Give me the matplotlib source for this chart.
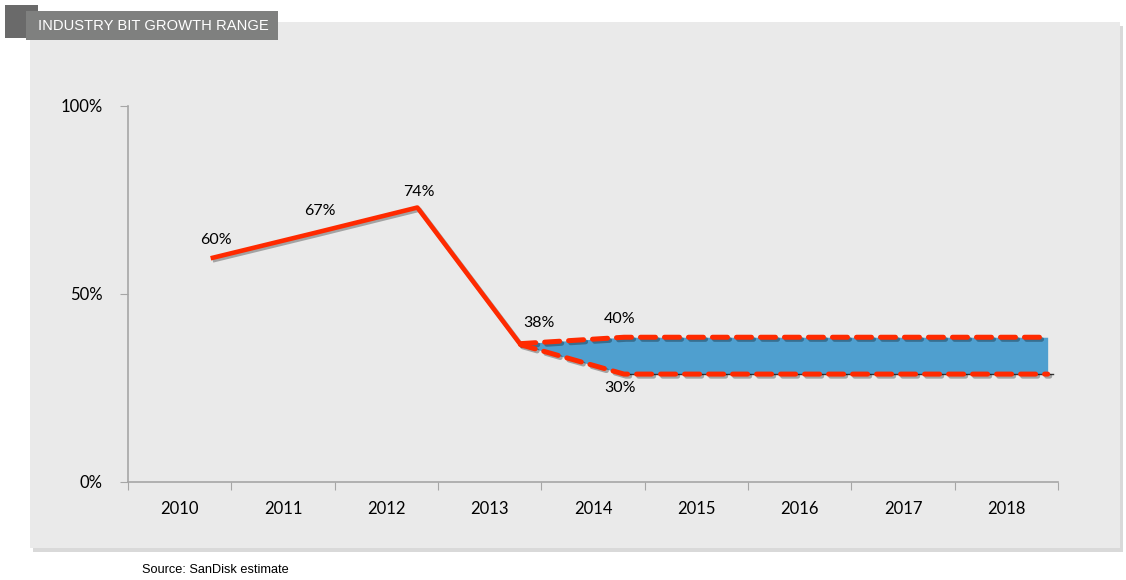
import numpy as np
import matplotlib
matplotlib.use("Agg")
import matplotlib.pyplot as plt
import matplotlib.patheffects as pe
from matplotlib.patches import Rectangle

# données
years = ['2010', '2011', '2012', '2013', '2014', '2015', '2016', '2017', '2018']
actual_years = ['2010', '2011', '2012', '2013']
actual_vals = [59.5, 66.2, 73.0, 36.5]
actual_labels = ['60%', '67%', '74%', '38%']
band_years = ['2013', '2014', '2015', '2016', '2017', '2018']
band_high = [36.8, 38.5, 38.5, 38.5, 38.5, 38.5]
band_low = [36.5, 28.7, 28.7, 28.7, 28.7, 28.7]
y_ticks = [0, 50, 100]
y_tick_labels = ['0%', '50%', '100%']

RED = '#FF2A00'
BLUE = '#4F9FCF'
PANEL = '#EAEAEA'
AXIS = '#A6A6A6'
shift = 0.3  # les points sont décalés à droite du centre de la catégorie

fig = plt.figure(figsize=(11.26, 5.80), dpi=100)
fig.patch.set_facecolor('white')

W, H = 1126, 580
def fx(px): return px / W
def fy(py): return 1 - py / H

# panneau gris avec ombre
fig.patches.append(Rectangle((fx(33), fy(552)), fx(1123) - fx(33), fy(26) - fy(552),
                             transform=fig.transFigure, facecolor='#D9D9D9', edgecolor='none', zorder=-3))
fig.patches.append(Rectangle((fx(30), fy(548)), fx(1120) - fx(30), fy(22) - fy(548),
                             transform=fig.transFigure, facecolor=PANEL, edgecolor='none', zorder=-2))
# bandeau du titre
fig.patches.append(Rectangle((fx(5), fy(38)), fx(38) - fx(5), fy(5) - fy(38),
                             transform=fig.transFigure, facecolor='#6A6A6A', edgecolor='none', zorder=-1))
fig.patches.append(Rectangle((fx(26), fy(40)), fx(278) - fx(26), fy(11) - fy(40),
                             transform=fig.transFigure, facecolor='#7F807F', edgecolor='none', zorder=-1))
fig.text(fx(38), fy(26), 'INDUSTRY BIT GROWTH RANGE', color='white', fontsize=10.6,
         family='Liberation Sans', va='center', ha='left', zorder=3)
fig.text(fx(142), fy(570), 'Source: SanDisk estimate', color='black', fontsize=9.2,
         family='Liberation Sans', va='center', ha='left')

ax = fig.add_axes([fx(128), fy(482), fx(1058) - fx(128), fy(106) - fy(482)])
ax.set_facecolor('none')
ax.set_zorder(5)

idx = {y: i for i, y in enumerate(years)}
xa = np.array([idx[y] for y in actual_years]) + 0.5 + shift
xb = np.array([idx[y] for y in band_years], dtype=float) + 0.5 + shift
xb[-1] += 0.1

shadow = [pe.SimpleLineShadow(offset=(1.5, -1.5), alpha=0.3, shadow_color='black'), pe.Normal()]

ax.fill_between(xb, band_low, band_high, color=BLUE, lw=0, zorder=2)
ax.plot([xb[1], xb[-1] + 0.05], [band_low[1], band_low[-1]], color='#333333', lw=1, zorder=2)
ax.plot(xa, actual_vals, color=RED, lw=3.3, solid_capstyle='butt', zorder=4, path_effects=shadow)
ax.plot(xb, band_high, color=RED, lw=3.6, ls=(0, (3, 1.8)), dash_capstyle='round', zorder=4, path_effects=shadow)
ax.plot(xb, band_low, color=RED, lw=3.6, ls=(0, (3, 1.8)), dash_capstyle='round', zorder=4, path_effects=shadow)

lab_font = dict(family='Lato', fontsize=11.5, color='black')
offs = [(4, 13), (4, 16), (1, 11), (13, 16)]
for x, v, t, o in zip(xa, actual_vals, actual_labels, offs):
    ax.annotate(t, (x, v), xytext=o, textcoords='offset points', ha='center', va='center', **lab_font)
ax.annotate('40%', (xb[1], band_high[1]), xytext=(-3, 13), textcoords='offset points',
            ha='center', va='center', **lab_font)
ax.annotate('30%', (xb[1], band_low[1]), xytext=(-3, -10), textcoords='offset points',
            ha='center', va='center', **lab_font)

ax.set_xlim(0, len(years))
ax.set_ylim(0, 100)
ax.set_yticks(y_ticks)
ax.set_yticklabels(y_tick_labels, family='Lato', fontsize=12)
ax.set_xticks(np.arange(len(years) + 1))
ax.set_xticklabels([])
ax.set_xticks(np.arange(len(years)) + 0.5, minor=True)
ax.set_xticklabels(years, minor=True, family='Lato', fontsize=12)
ax.tick_params(axis='x', which='minor', length=0, pad=14)
ax.tick_params(axis='x', which='major', length=6, color=AXIS)
ax.tick_params(axis='y', length=6, color=AXIS, pad=12)
for s in ['top', 'right']:
    ax.spines[s].set_visible(False)
for s in ['left', 'bottom']:
    ax.spines[s].set_color(AXIS)
    ax.spines[s].set_linewidth(1.2)

fig.savefig('out.png', dpi=100, facecolor='white')
